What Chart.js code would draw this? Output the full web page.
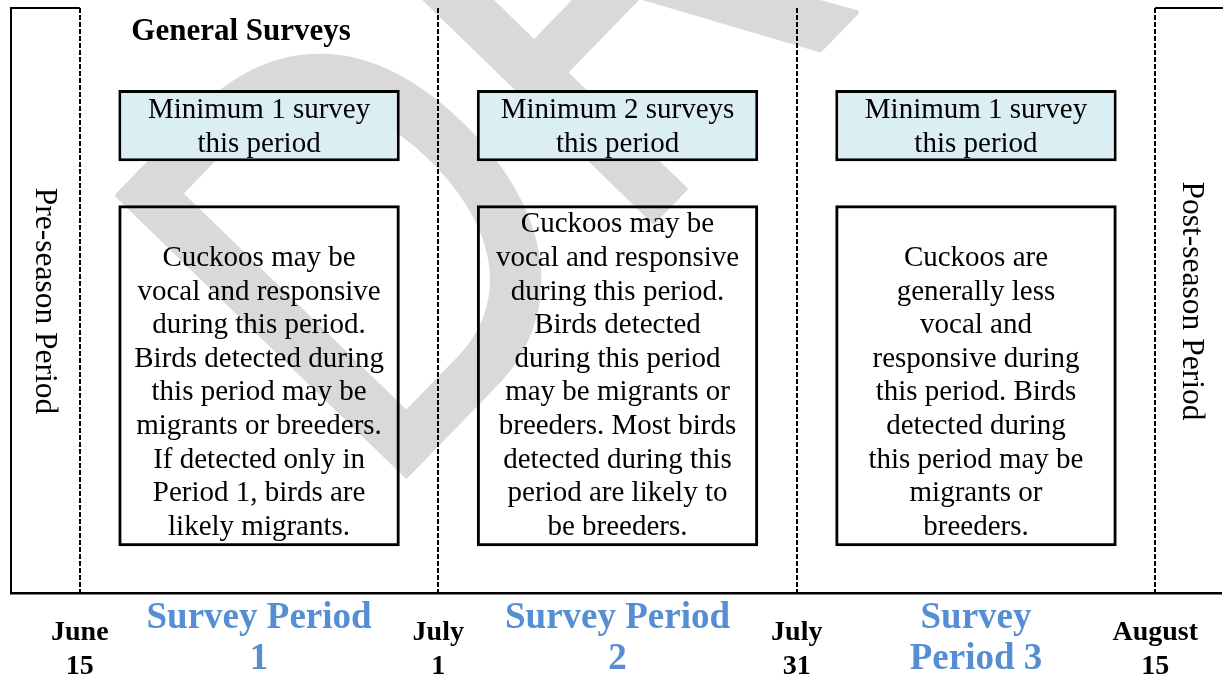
<!DOCTYPE html>
<html>
<head>
<meta charset="utf-8">
<script src="https://cdn.jsdelivr.net/npm/chart.js@4.4.1/dist/chart.umd.min.js"></script>
<style>
  html, body { margin: 0; padding: 0; background: #fff; }
  #wrap { width: 1223px; height: 678px; }
</style>
</head>
<body>
<div id="wrap"><canvas id="chart"></canvas></div>
<script>
"use strict"

//Timeline: boundaries sit on whole numbers, survey periods in between
const tickValues = [0, 0.5, 1, 1.5, 2, 2.5, 3];
const tickLabels = [["June", "15"], ["Survey Period", "1"], ["July", "1"], ["Survey Period", "2"], ["July", "31"], ["Survey", "Period 3"], ["August", "15"]];
const periodValues = [0.5, 1.5, 2.5];

//Box contents, one per survey period
const minimumText = [
  ["Minimum 1 survey", "this period"],
  ["Minimum 2 surveys", "this period"],
  ["Minimum 1 survey", "this period"]
];
const noteText = [
  ["Cuckoos may be", "vocal and responsive", "during this period.", "Birds detected during", "this period may be", "migrants or breeders.", "If detected only in", "Period 1, birds are", "likely migrants."],
  ["Cuckoos may be", "vocal and responsive", "during this period.", "Birds detected", "during this period", "may be migrants or", "breeders. Most birds", "detected during this", "period are likely to", "be breeders."],
  ["Cuckoos are", "generally less", "vocal and", "responsive during", "this period. Birds", "detected during", "this period may be", "migrants or", "breeders."]
];
const minimumRange = [73.8, 86];
const noteRange = [8, 66.3];
const sideLabels = ["Pre-season Period", "Post-season Period"];
const heading = "General Surveys";

const serif = '"Liberation Serif", "Times New Roman", serif';
const periodBlue = "#558ed5";

//Grey DRAFT watermark behind everything
const watermark = {
  id: "watermark",
  beforeDraw(chart) {
    const ctx = chart.ctx;
    ctx.save();
    ctx.translate(378, 505);
    ctx.rotate(-0.8);
    ctx.scale(0.84, 1);
    ctx.fillStyle = "#d9d9d9";
    ctx.strokeStyle = "#d9d9d9";
    ctx.lineWidth = 5;
    ctx.lineJoin = "round";
    ctx.font = '585px "Liberation Sans", sans-serif';
    ctx.textBaseline = "alphabetic";
    ctx.fillText("DRAFT", 0, 0);
    ctx.strokeText("DRAFT", 0, 0);
    ctx.restore();
  }
};

//Frame, side labels, heading and box texts
const decorations = {
  id: "decorations",
  afterDatasetsDraw(chart) {
    const ctx = chart.ctx;
    const area = chart.chartArea;
    const x = chart.scales.x;
    const start = x.getPixelForValue(0);
    const end = x.getPixelForValue(3);

    ctx.save();
    ctx.strokeStyle = "#000";
    ctx.lineWidth = 2;
    ctx.beginPath();
    ctx.moveTo(area.left, area.bottom);
    ctx.lineTo(area.left, area.top);
    ctx.lineTo(start, area.top);
    ctx.moveTo(end, area.top);
    ctx.lineTo(area.right + 2, area.top);
    ctx.stroke();

    //rotated side labels
    ctx.fillStyle = "#000";
    ctx.font = "31.5px " + serif;
    ctx.textAlign = "center";
    ctx.textBaseline = "middle";
    const sideX = [(area.left + start) / 2 - 1, (end + area.right) / 2 + 3];
    for (let i = 0; i < sideLabels.length; i++) {
      ctx.save();
      ctx.translate(sideX[i], 301);
      ctx.rotate(Math.PI / 2);
      ctx.fillText(sideLabels[i], 0, 0);
      ctx.restore();
    }

    const minMeta = chart.getDatasetMeta(0).data;
    const noteMeta = chart.getDatasetMeta(1).data;

    //heading
    ctx.font = "bold 31px " + serif;
    ctx.textAlign = "left";
    const firstBox = minMeta[0].getProps(["x", "width"], true);
    ctx.fillText(heading, firstBox.x - firstBox.width / 2 + 13, 32);

    ctx.font = "29px " + serif;
    ctx.textAlign = "center";
    for (let i = 0; i < minMeta.length; i++) {
      const bar = minMeta[i].getProps(["x", "y", "base"], true);
      const mid = (bar.y + bar.base) / 2 + 2;
      const lines = minimumText[i];
      for (let j = 0; j < lines.length; j++) {
        ctx.fillText(lines[j], bar.x, mid + (j - (lines.length - 1) / 2) * 34);
      }
    }
    for (let i = 0; i < noteMeta.length; i++) {
      const bar = noteMeta[i].getProps(["x", "y", "base"], true);
      const bottom = Math.max(bar.y, bar.base) - 19;
      const lines = noteText[i];
      for (let j = 0; j < lines.length; j++) {
        ctx.fillText(lines[j], bar.x, bottom - (lines.length - 1 - j) * 33.6);
      }
    }
    ctx.restore();
  }
};

//ticks sit every half unit, so bar width is taken against that spacing
const boxSettings = {
  borderColor: "#000",
  borderWidth: 3,
  borderSkipped: false,
  grouped: false,
  categoryPercentage: 1,
  barPercentage: 1.57
};

const data = {
  datasets: [
    Object.assign({
      label: "Minimum surveys",
      data: periodValues.map(v => ({ x: v, y: minimumRange })),
      backgroundColor: "#dbeef4"
    }, boxSettings),
    Object.assign({
      label: "Notes",
      data: periodValues.map(v => ({ x: v, y: noteRange })),
      backgroundColor: "rgba(0,0,0,0)"
    }, boxSettings)
  ]
};

const config = {
  type: "bar",
  data: data,
  options: {
    responsive: true,
    maintainAspectRatio: false,
    animation: false,
    layout: { padding: { top: 8, left: 11, right: 0, bottom: 0 } },
    plugins: { legend: { display: false }, tooltip: { enabled: false } },
    scales: {
      x: {
        type: "linear",
        offset: false,
        min: -0.192,
        max: 3.184,
        afterBuildTicks: axis => { axis.ticks = tickValues.map(v => ({ value: v })); },
        afterFit: axis => { axis.height = 85; },
        grid: {
          offset: false,
          drawTicks: false,
          lineWidth: 2,
          color: ctx => ctx.index % 2 === 0 ? "#000" : "rgba(0,0,0,0)"
        },
        border: { display: true, color: "#000", width: 2.5, dash: [5, 2] },
        ticks: {
          autoSkip: false,
          maxRotation: 0,
          padding: 25,
          crossAlign: "far",
          callback: (value, index) => tickLabels[index],
          color: ctx => ctx.index % 2 === 0 ? "#000" : periodBlue,
          font: ctx => ctx.index % 2 === 0
            ? { family: serif, size: 28, weight: "bold", lineHeight: 1.2 }
            : { family: serif, size: 37, weight: "bold", lineHeight: 1.11 }
        }
      },
      y: { display: false, min: 0, max: 100 }
    }
  },
  plugins: [watermark, decorations]
};

const myChart = new Chart(document.getElementById("chart"), config);
</script>
</body>
</html>
